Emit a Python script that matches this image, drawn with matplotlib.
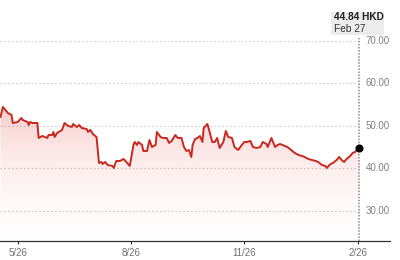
import matplotlib
matplotlib.use("Agg")
import matplotlib.pyplot as plt
import matplotlib.dates as mdates
from matplotlib.patches import Rectangle
import numpy as np
import pandas as pd

plt.rcParams['font.family'] = ['Liberation Sans', 'DejaVu Sans']

dates = [
    "2025-05-12", "2025-05-14", "2025-05-16", "2025-05-18", "2025-05-21", "2025-05-22",
    "2025-05-26", "2025-05-29", "2025-05-30", "2025-06-03", "2025-06-04", "2025-06-05",
    "2025-06-07", "2025-06-11", "2025-06-12", "2025-06-15", "2025-06-17", "2025-06-19",
    "2025-06-20", "2025-06-23", "2025-06-24", "2025-06-25", "2025-06-27", "2025-07-01",
    "2025-07-03", "2025-07-06", "2025-07-09", "2025-07-10", "2025-07-13", "2025-07-15",
    "2025-07-17", "2025-07-21", "2025-07-22", "2025-07-24", "2025-07-26", "2025-07-29",
    "2025-07-31", "2025-08-02", "2025-08-03", "2025-08-05", "2025-08-07", "2025-08-11",
    "2025-08-12", "2025-08-14", "2025-08-17", "2025-08-20", "2025-08-23", "2025-08-25",
    "2025-08-28", "2025-08-29", "2025-08-31", "2025-09-01", "2025-09-04", "2025-09-05",
    "2025-09-08", "2025-09-10", "2025-09-12", "2025-09-15", "2025-09-16", "2025-09-19",
    "2025-09-21", "2025-09-24", "2025-09-26", "2025-09-28", "2025-10-01", "2025-10-03",
    "2025-10-06", "2025-10-08", "2025-10-10", "2025-10-12", "2025-10-14", "2025-10-15",
    "2025-10-17", "2025-10-19", "2025-10-21", "2025-10-23", "2025-10-24", "2025-10-27",
    "2025-10-28", "2025-10-31", "2025-11-02", "2025-11-04", "2025-11-06", "2025-11-09",
    "2025-11-11", "2025-11-13", "2025-11-16", "2025-11-18", "2025-11-21", "2025-11-24",
    "2025-11-26", "2025-11-28", "2025-12-01", "2025-12-03", "2025-12-06", "2025-12-09",
    "2025-12-11", "2025-12-14", "2025-12-15", "2025-12-18", "2025-12-21", "2025-12-23",
    "2025-12-25", "2025-12-29", "2025-12-31", "2026-01-04", "2026-01-06", "2026-01-09",
    "2026-01-12", "2026-01-14", "2026-01-17", "2026-01-20", "2026-01-23", "2026-01-25",
    "2026-01-28", "2026-01-31", "2026-02-01", "2026-02-04", "2026-02-06", "2026-02-09",
    "2026-02-11", "2026-02-13", "2026-02-15", "2026-02-17", "2026-02-20", "2026-02-22",
    "2026-02-24", "2026-02-27",
]
prices = [
    52.10, 54.46, 53.75, 53.04, 52.57, 50.68,
    50.92, 51.86, 51.39, 50.92, 50.21, 50.92,
    50.68, 50.68, 47.15, 47.62, 47.38, 47.15,
    47.85, 47.85, 48.56, 47.38, 48.33, 49.04,
    50.68, 49.98, 49.74, 50.45, 49.74, 50.21,
    49.50, 49.27, 48.56, 49.04, 48.09, 47.38,
    41.25, 41.49, 41.01, 41.49, 40.78, 40.54,
    40.07, 41.72, 41.72, 42.19, 41.25, 40.54,
    45.50, 46.20, 45.50, 46.20, 45.50, 44.08,
    44.08, 46.67, 45.02, 45.50, 48.56, 47.38,
    47.15, 47.15, 45.97, 46.44, 47.85, 47.15,
    47.15, 45.02, 44.08, 44.32, 42.66, 45.50,
    46.91, 47.15, 47.62, 46.20, 49.50, 50.45,
    49.50, 46.20, 46.20, 47.15, 44.79, 46.20,
    48.80, 47.38, 47.15, 45.02, 44.32, 45.50,
    46.20, 46.20, 46.44, 45.02, 44.79, 45.02,
    46.20, 45.73, 45.02, 47.15, 45.02, 45.50,
    45.73, 45.26, 45.02, 44.08, 43.61, 43.14,
    42.90, 42.66, 42.19, 41.96, 41.72, 41.49,
    40.78, 40.54, 40.07, 41.01, 41.25, 41.96,
    42.66, 41.96, 41.49, 42.19, 42.90, 43.61,
    43.85, 44.84,
]
x_tick_dates = ["2025-05-26", "2025-08-26", "2025-11-26", "2026-02-26"]
x_tick_labels = ["5/26", "8/26", "11/26", "2/26"]
y_ticks = [30, 40, 50, 60, 70]
last_price_label = "44.84 HKD"
last_date_label = "Feb 27"

W, H = 400, 260
fig = plt.figure(figsize=(W / 100, H / 100), dpi=100)
ax = fig.add_axes([0, (H - 241) / H, 1, 241 / H])

t = pd.to_datetime(dates)
xn = mdates.date2num(t)
yv = np.array(prices)

ref = mdates.date2num(pd.Timestamp("2025-05-26"))
px_per_day = 1.2315
x0 = ref - 17.7 / px_per_day
x1 = ref + (W - 17.7) / px_per_day
ylo, yhi = 22.85, 79.69
ax.set_xlim(x0, x1)
ax.set_ylim(ylo, yhi)

line_color = "#c8281e"

# gradient fill
grad = np.linspace(0, 1, 256).reshape(-1, 1)
cmap_rgba = np.zeros((256, 1, 4))
cmap_rgba[..., 0] = 0.88
cmap_rgba[..., 1] = 0.18
cmap_rgba[..., 2] = 0.14
cmap_rgba[..., 3] = 0.01 + 0.22 * grad ** 1.8
top = yv.max()
im = ax.imshow(cmap_rgba, aspect='auto', origin='lower',
               extent=[xn[0], xn[-1], ylo, top], zorder=1, interpolation='bilinear')
poly = ax.fill_between(xn, yv, ylo, facecolor='none', edgecolor='none')
clip = poly.get_paths()[0]
im.set_clip_path(clip, transform=ax.transData)

# gridlines
for v in y_ticks:
    ax.plot([x0, xn[-1]], [v, v], color="#cfcfcf", lw=0.8, ls=(0, (1.5, 2)), zorder=0.5)
    ax.text(390 / W, v, f"{v:.2f}", transform=ax.get_yaxis_transform(),
            ha='right', va='center', fontsize=7, color="#808080")

ax.plot(xn, yv, color=line_color, lw=1.4, zorder=3, solid_joinstyle='round')

# vertical dotted line at last point
ax.plot([xn[-1], xn[-1]], [ylo, 70.73], color="#8a8a8a", lw=1.1, ls=(0, (1, 1)), zorder=2)
ax.plot([xn[-1]], [yv[-1]], marker='o', ms=4.8, color='black', zorder=5)

# axes styling
for s in ['top', 'left', 'right']:
    ax.spines[s].set_visible(False)
ax.spines['bottom'].set_color("#333333")
ax.spines['bottom'].set_linewidth(0.9)
ax.spines['bottom'].set_bounds(x0, ref + (390 - 17.7) / px_per_day)
ax.set_yticks([])
ax.set_xticks(mdates.date2num(pd.to_datetime(x_tick_dates)))
ax.set_xticklabels(x_tick_labels)
ax.tick_params(axis='x', length=2.5, width=0.8, color="#333333", pad=2.5,
               labelsize=7, labelcolor="#707070")
ax.patch.set_alpha(0)

# label box
box = Rectangle((331 / W, 1 - 35 / H), 53 / W, 23.3 / H, transform=fig.transFigure,
                facecolor="#ececec", edgecolor='none', zorder=6)
fig.patches.append(box)
fig.text(334 / W, 1 - 17.5 / H, last_price_label, ha='left', va='center',
         fontsize=7.3, fontweight='bold', color="#222222", zorder=7)
fig.text(334 / W, 1 - 29 / H, last_date_label, ha='left', va='center',
         fontsize=7.3, color="#333333", zorder=7)

fig.savefig("out.png", dpi=100)
